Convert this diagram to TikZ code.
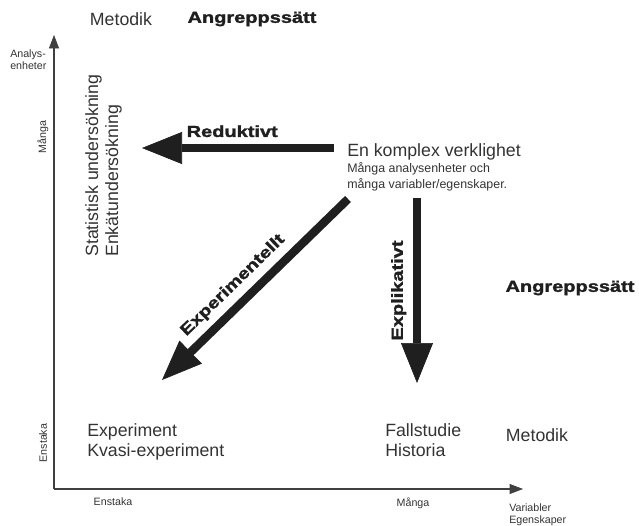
\documentclass[tikz,border=0pt]{standalone}
\usepackage{graphicx}
\usepackage{fontspec}
\setmainfont{Liberation Sans}
\newfontfamily\heavyfont[FakeBold=1.5]{Liberation Sans Bold}
\newcommand{\widetxt}[1]{\scalebox{1.25}[1]{#1}}
\usetikzlibrary{arrows.meta}

\begin{document}
\begin{tikzpicture}[x=0.75pt, y=-0.75pt,
  axis/.style={line width=0.8pt, draw=black!75, -{Triangle[length=10pt,width=7.5pt,line width=0.5pt]}},
  fat/.style={line width=6.3pt, draw=black!88, -{Triangle[length=30pt,width=24pt,line width=0.5pt]}},
  big/.style={inner sep=0pt, text=black!80, font=\fontsize{13.3}{15}\selectfont, align=left},
  small/.style={inner sep=0pt, text=black!80, font=\fontsize{8}{9}\selectfont, align=left},
  heavy/.style={inner sep=5pt, text=black!88, font=\fontsize{12}{14}\heavyfont}]
\useasboundingbox (0,0) rectangle (639,525);

% Axes
\coordinate (origin) at (54,489);
\coordinate (ytop) at (54,35);
\coordinate (xend) at (523,489);
\draw[axis] (origin) -- (ytop);
\draw[axis] (origin) -- (xend);

% Axis labels
\node[small, anchor=north west] (yname) at (10,50) {Analys-\\enheter};
\node[small, rotate=90] (ymany) at (43,137) {Många};
\node[small, rotate=90] (yfew) at (43,443) {Enstaka};
\node[small, anchor=base] (xfew) at (113,505) {Enstaka};
\node[small, anchor=base] (xmany) at (413,506) {Många};
\node[small, anchor=north west] (xname) at (509,503) {Variabler\\Egenskaper};

% Headings
\node[big] (methodtop) at (121,19) {Metodik};
\node[heavy] (approachtop) at (252,19) {\widetxt{Angreppssätt}};
\node[heavy] (approachright) at (570,288) {\widetxt{Angreppssätt}};
\node[big] (methodright) at (537,435) {Metodik};

% Methods
\node[big, rotate=90, anchor=north west] (survey) at (85,257) {Statistisk undersökning\\Enkätundersökning};
\node[big, anchor=north west] (experiment) at (87,423) {Experiment\\Kvasi-experiment};
\node[big, anchor=north west] (casestudy) at (385,423) {Fallstudie\\Historia};

% Complex reality
\node[big, anchor=north west] (reality) at (347,143) {En komplex verklighet};
\node[anchor=north west, inner sep=0pt, text=black!80, font=\fontsize{9.3}{12}\selectfont, align=left] (realitysub) at (347,162) {Många analysenheter och\\många variabler/egenskaper.};

% Approaches
\coordinate (redfrom) at (334,148);
\coordinate (redto) at (142,148);
\coordinate (expfrom) at (417,198);
\coordinate (expto) at (417,383);
\coordinate (expefrom) at (348,199);
\coordinate (expeto) at (162,380);

\draw[fat] (redfrom) -- node[heavy, above, pos=0.53] (reductive) {\widetxt{Reduktivt}} (redto);
\draw[fat] (expfrom) -- node[heavy, rotate=90, anchor=south, pos=0.5] (explicative) {\widetxt{Explikativt}} (expto);
\draw[fat] (expefrom) -- node[heavy, sloped, above, pos=0.55] (experimental) {\widetxt{Experimentellt}} (expeto);

\end{tikzpicture}
\end{document}
